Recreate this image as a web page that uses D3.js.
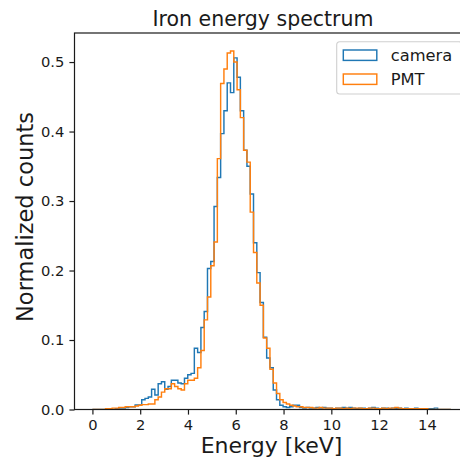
<!DOCTYPE html>
<html>
<head>
<meta charset="utf-8">
<script src="https://cdn.jsdelivr.net/npm/d3@7"></script>
<style>
  html, body { margin: 0; padding: 0; background: #fff; }
  svg { display: block; font-family: "DejaVu Sans", sans-serif; }
</style>
</head>
<body>
<svg id="chart" width="460" height="460"></svg>
<script>
// Histogram binning: equal-width bins spanning the energy range [keV]
const binRange = [0, 15];
const binCount = 109;

// Normalized counts per bin, camera
const cameraCounts = [
  0, 0, 0, 0, 0, 0, 0, 0.001, 0.002, 0.002,
  0.003, 0.004, 0.004, 0.0065, 0.0065, 0.014, 0.016, 0.018, 0.029, 0.021,
  0.037, 0.040, 0.029, 0.033, 0.042, 0.042, 0.038, 0.037, 0.045, 0.050,
  0.052, 0.088, 0.082, 0.118, 0.141, 0.203, 0.213, 0.292, 0.334, 0.397,
  0.430, 0.470, 0.456, 0.506, 0.478, 0.430, 0.373, 0.350, 0.310, 0.240,
  0.197, 0.154, 0.104, 0.074, 0.060, 0.028, 0.014, 0.006, 0.004, 0.003,
  0.004, 0.006, 0.006, 0.003, 0.002, 0.003, 0.002, 0.002, 0.003, 0.002,
  0.003, 0.002, 0.002, 0.001, 0.002, 0.002, 0.003, 0.002, 0.003, 0.002,
  0.001, 0.002, 0.002, 0.001, 0.002, 0.003, 0.002, 0.001, 0.002, 0.002,
  0.001, 0.002, 0.001, 0.002, 0.001, 0.002, 0.001, 0.001, 0.002, 0.001,
  0.001, 0.001, 0.001, 0.001, 0.002, 0, 0, 0, 0
];

// Normalized counts per bin, PMT
const pmtCounts = [
  0, 0, 0, 0, 0.001, 0.001, 0.002, 0.002, 0.003, 0.003,
  0.004, 0.004, 0.004, 0.005, 0.006, 0.007, 0.007, 0.008, 0.008, 0.014,
  0.018, 0.025, 0.030, 0.030, 0.037, 0.033, 0.030, 0.028, 0.037, 0.042,
  0.042, 0.045, 0.060, 0.085, 0.129, 0.162, 0.207, 0.241, 0.361, 0.469,
  0.490, 0.513, 0.516, 0.500, 0.460, 0.420, 0.373, 0.356, 0.284, 0.226,
  0.182, 0.150, 0.103, 0.088, 0.058, 0.038, 0.023, 0.014, 0.010, 0.008,
  0.006, 0.005, 0.004, 0.004, 0.003, 0.003, 0.003, 0.002, 0.002, 0.003,
  0.002, 0.002, 0.002, 0.001, 0.002, 0.002, 0.001, 0.002, 0.001, 0.002,
  0.002, 0.002, 0.001, 0.001, 0.002, 0.002, 0.001, 0.001, 0.002, 0.001,
  0.002, 0.002, 0.003, 0.002, 0.001, 0.001, 0.001, 0.001, 0.001, 0.001,
  0.001, 0.001, 0, 0, 0, 0, 0, 0, 0
];

const seriesNames = ["camera", "PMT"];
const seriesColors = ["#1f77b4", "#ff7f0e"];
const xTicks = [0, 2, 4, 6, 8, 10, 12, 14];
const yTicks = [0.0, 0.1, 0.2, 0.3, 0.4, 0.5];
const titleText = "Iron energy spectrum";
const xLabelText = "Energy [keV]";
const yLabelText = "Normalized counts";

// Layout
const plot = { left: 74.5, right: 468.7, top: 33, bottom: 409.5 };
const tickLen = 5.1, tickPad = 5.1;
const textColor = "#1a1a1a";

const svg = d3.select("#chart");

const edges = d3.range(binCount + 1).map(i => binRange[0] + (binRange[1] - binRange[0]) * i / binCount);
const allCounts = cameraCounts.concat(pmtCounts);
const maxCount = d3.max(allCounts);
const xPad = (binRange[1] - binRange[0]) * 0.05;

const x = d3.scaleLinear()
  .domain([binRange[0] - xPad, binRange[1] + xPad])
  .range([plot.left, plot.right]);
const y = d3.scaleLinear()
  .domain([0, maxCount * 1.05])
  .range([plot.bottom, plot.top]);

// Clip region for the histogram outlines
svg.append("defs").append("clipPath").attr("id", "plot-clip")
  .append("rect")
  .attr("x", plot.left).attr("y", plot.top)
  .attr("width", plot.right - plot.left).attr("height", plot.bottom - plot.top);

// Step outline of a histogram: rises from zero at the first edge, falls back at the last
function stepPoints(counts) {
  const pts = [[edges[0], 0]];
  counts.forEach((v, i) => {
    pts.push([edges[i], v]);
    pts.push([edges[i + 1], v]);
  });
  pts.push([edges[counts.length], 0]);
  return pts;
}

const line = d3.line().x(d => x(d[0])).y(d => y(d[1]));

const series = [cameraCounts, pmtCounts];
const g = svg.append("g").attr("clip-path", "url(#plot-clip)");
series.forEach((counts, k) => {
  g.append("path")
    .attr("d", line(stepPoints(counts)))
    .attr("fill", "none")
    .attr("stroke", seriesColors[k])
    .attr("stroke-width", 1.45)
    .attr("stroke-linejoin", "miter");
});

// Axes
const xAxis = d3.axisBottom(x).tickValues(xTicks).tickFormat(d3.format("d"))
  .tickSizeInner(tickLen).tickSizeOuter(0).tickPadding(tickPad);
const yAxis = d3.axisLeft(y).tickValues(yTicks).tickFormat(d3.format(".1f"))
  .tickSizeInner(tickLen).tickSizeOuter(0).tickPadding(tickPad);

const gx = svg.append("g").attr("transform", `translate(0,${plot.bottom})`).call(xAxis);
const gy = svg.append("g").attr("transform", `translate(${plot.left},0)`).call(yAxis);
[gx, gy].forEach(a => {
  a.select(".domain").remove();
  a.selectAll(".tick line").attr("stroke", textColor).attr("stroke-width", 1.2);
  a.selectAll(".tick text")
    .attr("fill", textColor)
    .style("font-family", "DejaVu Sans, sans-serif")
    .style("font-size", "14.7px");
});

// Axes frame
svg.append("rect")
  .attr("x", plot.left).attr("y", plot.top)
  .attr("width", plot.right - plot.left).attr("height", plot.bottom - plot.top)
  .attr("fill", "none").attr("stroke", textColor).attr("stroke-width", 1.2);

// Title and axis labels
svg.append("text")
  .attr("x", 263).attr("y", 26)
  .attr("text-anchor", "middle")
  .attr("fill", textColor)
  .style("font-size", "20.5px")
  .text(titleText);

svg.append("text")
  .attr("x", (plot.left + plot.right) / 2).attr("y", 453)
  .attr("text-anchor", "middle")
  .attr("fill", textColor)
  .style("font-size", "22px")
  .text(xLabelText);

svg.append("text")
  .attr("transform", `translate(33,217) rotate(-90)`)
  .attr("text-anchor", "middle")
  .attr("fill", textColor)
  .style("font-size", "22.5px")
  .text(yLabelText);

// Legend
const legend = svg.append("g").attr("transform", "translate(336.7,41.7)");
legend.append("rect")
  .attr("x", 0).attr("y", 0)
  .attr("width", 125).attr("height", 52.3)
  .attr("rx", 3).attr("ry", 3)
  .attr("fill", "#fff").attr("fill-opacity", 0.8)
  .attr("stroke", "#d0d0d0").attr("stroke-width", 1.1);

seriesNames.forEach((name, k) => {
  const rowY = 13.5 + k * 24;
  legend.append("rect")
    .attr("x", 6.6).attr("y", rowY - 5.2)
    .attr("width", 33.5).attr("height", 10.4)
    .attr("fill", "none")
    .attr("stroke", seriesColors[k])
    .attr("stroke-width", 1.45);
  legend.append("text")
    .attr("x", 54).attr("y", rowY)
    .attr("dy", "0.36em")
    .attr("fill", textColor)
    .style("font-size", "16.3px")
    .text(name);
});
</script>
</body>
</html>
